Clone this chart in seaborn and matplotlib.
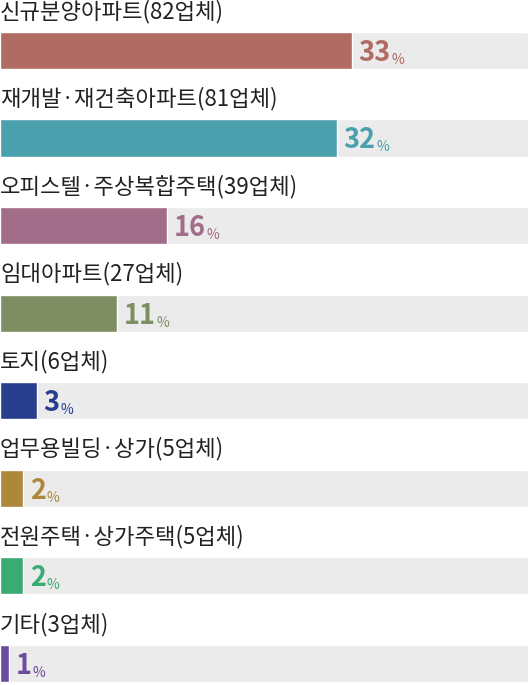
import matplotlib
matplotlib.use("Agg")
import matplotlib.pyplot as plt
import seaborn as sns
import pandas as pd

# data
categories = ["신규분양아파트(82업체)", "재개발·재건축아파트(81업체)", "오피스텔·주상복합주택(39업체)",
              "임대아파트(27업체)", "토지(6업체)", "업무용빌딩·상가(5업체)",
              "전원주택·상가주택(5업체)", "기타(3업체)"]
shares = [33.0, 31.6, 15.7, 11.0, 3.5, 2.2, 2.2, 0.85]   # bar lengths as drawn
pct_labels = ["33", "32", "16", "11", "3", "2", "2", "1"]
colors = ["#b06b63", "#4ba0ae", "#a26d88", "#7f8e62", "#283f8e", "#ad873a", "#3aab73", "#6b4b9e"]

X_MAX = 49.5
BAR_H = 0.423

sns.set_theme(style="white")
plt.rcParams['font.family'] = ['Noto Sans CJK KR', 'DejaVu Sans']

df = pd.DataFrame({"cat": categories, "share": shares, "full": [X_MAX] * len(categories)})

fig = plt.figure(figsize=(5.28, 6.85), dpi=100)
ax = fig.add_axes([0, 0, 1, 1])

# grey track behind each bar
sns.barplot(data=df, x="full", y="cat", color="#ebebeb", width=BAR_H, orient="h", ax=ax)
sns.barplot(data=df, x="share", y="cat", hue="cat", palette=colors, width=BAR_H,
            orient="h", legend=False, ax=ax, saturation=1)

for i, (cat, val, lab, col) in enumerate(zip(categories, shares, pct_labels, colors)):
    ax.text(0, i - 0.445, cat, fontsize=16, color="#222222", va="center", ha="left")
    t = ax.annotate(lab, xy=(val, i + 0.12), xytext=(4.5, 0), textcoords="offset points",
                    fontsize=19.5, fontweight="bold", color=col, va="baseline", ha="left")
    ax.annotate("%", xy=(1, 0), xycoords=t, xytext=(0.5, 0), textcoords="offset points",
                fontsize=10, color=col, va="bottom", ha="left")

ax.set_xlim(0, X_MAX)
ax.set_ylim(7.251, -0.577)
ax.axis("off")

fig.savefig("out.png", dpi=100)
